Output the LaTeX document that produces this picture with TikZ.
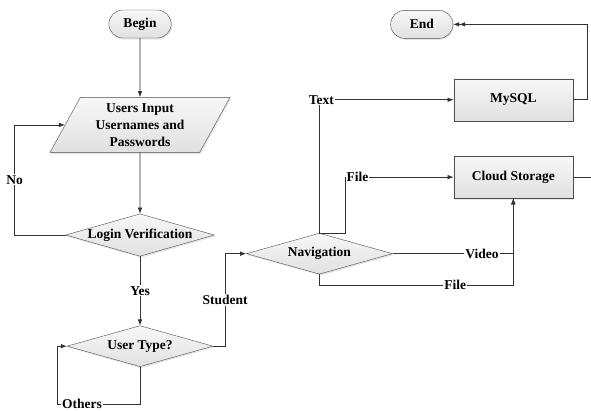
\documentclass[tikz,border=0pt]{standalone}
\usepackage{fontspec}
\setmainfont{Liberation Serif}
\usetikzlibrary{positioning, shapes.geometric, shapes.misc, shadows, arrows.meta}

\begin{document}
\begin{tikzpicture}
[
font=\bfseries\fontsize{13.5}{17}\selectfont,
>={Latex[length=6pt, width=4.5pt]},
shade-a/.style={draw=black!70, top color=gray!6, bottom color=gray!24,
                drop shadow={shadow xshift=1pt, shadow yshift=-1.5pt, opacity=0.2}},
term-a/.style={rounded rectangle, shade-a, minimum width=69pt, minimum height=28pt},
io-a/.style={trapezium, shade-a, trapezium left angle=64, trapezium right angle=116,
             trapezium stretches=true, minimum width=180pt, minimum height=55pt, align=center},
dec-a/.style={diamond, shade-a, aspect=3.5, inner sep=0pt, minimum width=146pt, minimum height=41pt},
box-a/.style={rectangle, shade-a, minimum width=119pt, minimum height=42pt},
line-a/.style={draw=black!80, line width=0.6pt},
text-a/.style={black, fill=white, inner sep=1pt}
]

\useasboundingbox (0pt,0pt) rectangle (591pt,-410pt);

\node (term-begin) [term-a] at (140pt,-24pt)                         {Begin};
\node (input)      [io-a,   below = 59pt of term-begin]              {Users Input\\Usernames and\\Passwords};
\node (login)      [dec-a,  below = 61pt of input]                   {Login Verification};
\node (usertype)   [dec-a,  below = 69pt of login]                   {User Type?};
\node (nav)        [dec-a,  right = 33pt of usertype, yshift = 92.5pt] {Navigation};
\node (cloud)      [box-a,  right = 61pt of nav, yshift = 76.5pt]    {Cloud Storage};
\node (mysql)      [box-a,  above = 35pt of cloud]                   {MySQL};
\node (term-end)   [term-a, above = 40pt of mysql, xshift = -91.5pt] {End};
\coordinate [right = 20pt of cloud] (cloud-out);

\draw [line-a, ->] (term-begin) -- (input);
\draw [line-a, ->] (input) -- (login);
\draw [line-a, ->] (login) -- node [text-a] {Yes} (usertype);
\draw [line-a, ->] (login.west) -- ++(-51pt,0pt) |- node [text-a, pos=0.25] {No} (input.west);
\draw [line-a, ->] (usertype.south) -- ++(0pt,-37pt) -- node [text-a, pos=0.7] {Others} ++(-83pt,0pt) |- (usertype.west);
\draw [line-a, ->] (usertype.east) -- ++(12pt,0pt) |- node [text-a, pos=0.25] {Student} (nav.west);
\draw [line-a, ->] (nav.north) |- node [text-a, pos=0.5, xshift=2pt] {Text} (mysql.west);
\draw [line-a, ->] (nav.north) -- ++(26pt,0pt) |- node [text-a, pos=0.5, anchor=west] {File} (cloud.west);
\draw [line-a, ->] (nav.east) -| node [text-a, pos=0.37] {Video} (cloud.south);
\draw [line-a, ->] (nav.south) -- ++(0pt,-11pt) -| node [text-a, pos=0.35] {File} (cloud.south);
\draw [line-a, ->>] (mysql.east) -- ++(14pt,0pt) |- (term-end.east);
\draw [line-a] (cloud.east) -- (cloud-out);

\end{tikzpicture}
\end{document}
